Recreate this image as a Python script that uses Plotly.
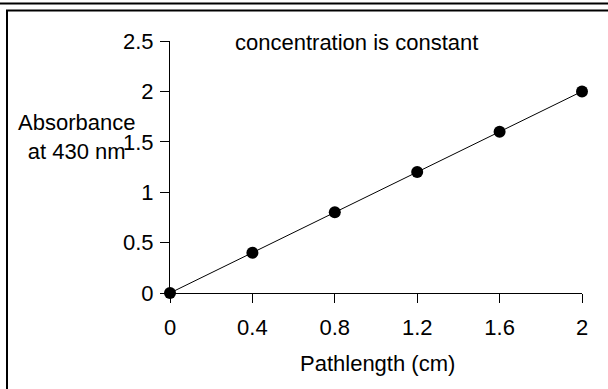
import plotly.graph_objects as go

pathlength = [0, 0.4, 0.8, 1.2, 1.6, 2.0]
absorbance = [0, 0.4, 0.8, 1.2, 1.6, 2.0]
x_ticks = [0, 0.4, 0.8, 1.2, 1.6, 2.0]
x_tick_labels = ["0", "0.4", "0.8", "1.2", "1.6", "2"]
y_ticks = [0, 0.5, 1.0, 1.5, 2.0, 2.5]
y_tick_labels = ["0", "0.5", "1", "1.5", "2", "2.5"]
title_text = "concentration is constant"
x_title = "Pathlength (cm)"
y_title = "Absorbance<br>at 430 nm"

FONT = "Liberation Sans, Arial, sans-serif"

fig = go.Figure()
fig.add_trace(go.Scatter(
    x=pathlength, y=absorbance, mode="lines+markers",
    line=dict(color="black", width=1),
    marker=dict(color="black", size=12),
    cliponaxis=False, showlegend=False,
))

fig.update_layout(
    width=608, height=389,
    margin=dict(l=170, r=26, t=41, b=96),
    paper_bgcolor="white", plot_bgcolor="white",
    font=dict(family=FONT, color="black", size=22),
    xaxis=dict(range=[0, 2], tickvals=x_ticks, ticktext=x_tick_labels,
               showline=True, linecolor="black", linewidth=1,
               ticks="outside", ticklen=9, tickcolor="black",
               showgrid=False, zeroline=False, ticklabelstandoff=6,
               tickfont=dict(size=22)),
    yaxis=dict(range=[0, 2.5], tickvals=y_ticks, ticktext=y_tick_labels,
               showline=True, linecolor="black", linewidth=1,
               ticks="outside", ticklen=9, tickcolor="black",
               showgrid=False, zeroline=False, ticklabelstandoff=2,
               tickfont=dict(size=22)),
    annotations=[
        dict(text=title_text, x=(356 - 170) / 412, y=(293 - 43) / 252,
             xref="paper", yref="paper", showarrow=False,
             xanchor="center", yanchor="middle", font=dict(size=22)),
        dict(text=x_title, x=(377 - 170) / 412, y=(293 - 363) / 252,
             xref="paper", yref="paper", showarrow=False,
             xanchor="center", yanchor="middle", font=dict(size=22)),
        dict(text=y_title, x=(76 - 170) / 412, y=(293 - 137) / 252,
             xref="paper", yref="paper", showarrow=False,
             xanchor="center", yanchor="middle", font=dict(size=22)),
    ],
    shapes=[
        dict(type="line", xref="paper", yref="paper",
             x0=-0.5, x1=1.2, y0=(293 - 3.5) / 252, y1=(293 - 3.5) / 252,
             line=dict(color="black", width=2)),
        dict(type="rect", xref="paper", yref="paper",
             x0=(7 - 170) / 412, x1=(615 - 170) / 412,
             y0=(293 - 400) / 252, y1=(293 - 10.5) / 252,
             line=dict(color="black", width=2)),
    ],
)

fig.write_html("out.html", config={"displayModeBar": False},
               post_script="document.body.style.margin='0';")
